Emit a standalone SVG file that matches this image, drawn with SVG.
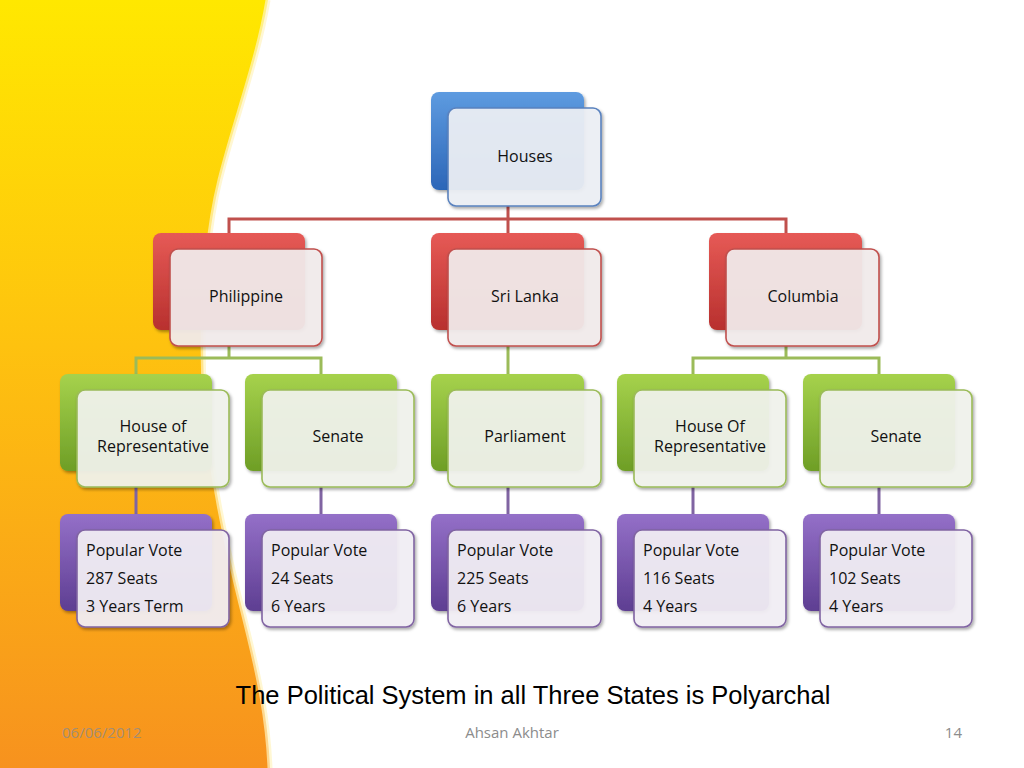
<svg xmlns="http://www.w3.org/2000/svg" width="1024" height="768" viewBox="0 0 1024 768">
<defs>
<linearGradient id="bg" x1="0" y1="0" x2="0" y2="1">
<stop offset="0" stop-color="#FFE800"/>
<stop offset="0.45" stop-color="#FEC20F"/>
<stop offset="1" stop-color="#F7921E"/>
</linearGradient>
<linearGradient id="gBlue" x1="0" y1="0" x2="0" y2="1"><stop offset="0" stop-color="#5E9BE0"/><stop offset="1" stop-color="#2C66B8"/></linearGradient>
<linearGradient id="gRed" x1="0" y1="0" x2="0" y2="1"><stop offset="0" stop-color="#E65A56"/><stop offset="1" stop-color="#B8302E"/></linearGradient>
<linearGradient id="gGreen" x1="0" y1="0" x2="0" y2="1"><stop offset="0" stop-color="#A6D24C"/><stop offset="1" stop-color="#6E9E26"/></linearGradient>
<linearGradient id="gPurple" x1="0" y1="0" x2="0" y2="1"><stop offset="0" stop-color="#9470C8"/><stop offset="1" stop-color="#5E3E92"/></linearGradient>
<filter id="sh" x="-10%" y="-10%" width="130%" height="130%"><feDropShadow dx="1.5" dy="2" stdDeviation="1.5" flood-color="#000" flood-opacity="0.35"/></filter>
<style>
.back{filter:url(#sh)}
.front{stroke-width:1.6;fill-opacity:0.92;filter:url(#sh)}
.fb{fill:#EEF1F6;stroke:#5A82BE}
.fr{fill:#F3EDED;stroke:#C0504D}
.fg{fill:#F2F4EE;stroke:#9BBB59}
.fp{fill:#F3F0F6;stroke:#8064A2}
.t{font-family:"Open Sans","Liberation Sans",sans-serif;font-size:16px;fill:#111}
.c{text-anchor:middle}
.lr{stroke:#C0504D;stroke-width:3;fill:none}
.lg{stroke:#9BBB59;stroke-width:3;fill:none}
.lp{stroke:#8064A2;stroke-width:3;fill:none}
.foot{font-family:"Open Sans","Liberation Sans",sans-serif;font-size:15px;fill:#8C8C8C}
</style>
</defs>
<rect width="1024" height="768" fill="#FFFFFF"/>
<path d="M0,0 H268 C258,60 235,120 220,180 C205,240 200,330 205,400 C210,470 225,540 245,620 C260,680 268,720 270,768 H0 Z" fill="url(#bg)"/>
<path d="M268,0 C258,60 235,120 220,180 C205,240 200,330 205,400 C210,470 225,540 245,620 C260,680 268,720 270,768" fill="none" stroke="#FFF3C0" stroke-width="5" stroke-opacity="0.7"/>

<g id="connectors">
<path class="lr" d="M508,206 V219 M229,233 V219 H786 V233 M508,219 V233"/>
<path class="lg" d="M229,346 V358 M136,374 V358 H321 V374"/>
<path class="lg" d="M508,346 V374"/>
<path class="lg" d="M786,346 V358 M693,374 V358 H879 V374"/>
<path class="lp" d="M136,487 V514 M321,487 V514 M508,487 V514 M693,487 V514 M879,487 V514"/>
</g>

<g id="houses">
<rect class="back" x="431" y="92" width="153" height="98" rx="8" fill="url(#gBlue)"/>
<rect class="front fb" x="448" y="108" width="153" height="98" rx="8"/>
<text class="t c" x="525" y="162">Houses</text>
</g>

<g id="philippine">
<rect class="back" x="153" y="233" width="152" height="97" rx="8" fill="url(#gRed)"/>
<rect class="front fr" x="170" y="249" width="152" height="97" rx="8"/>
<text class="t c" x="246" y="302">Philippine</text>
</g>
<g id="srilanka">
<rect class="back" x="431" y="233" width="153" height="97" rx="8" fill="url(#gRed)"/>
<rect class="front fr" x="448" y="249" width="153" height="97" rx="8"/>
<text class="t c" x="525" y="302">Sri Lanka</text>
</g>
<g id="columbia">
<rect class="back" x="709" y="233" width="153" height="97" rx="8" fill="url(#gRed)"/>
<rect class="front fr" x="726" y="249" width="153" height="97" rx="8"/>
<text class="t c" x="803" y="302">Columbia</text>
</g>

<g id="ph-house">
<rect class="back" x="60" y="374" width="152" height="97" rx="8" fill="url(#gGreen)"/>
<rect class="front fg" x="77" y="390" width="152" height="97" rx="8"/>
<text class="t c" x="153" y="432">House of</text>
<text class="t c" x="153" y="452">Representative</text>
</g>
<g id="ph-senate">
<rect class="back" x="245" y="374" width="152" height="97" rx="8" fill="url(#gGreen)"/>
<rect class="front fg" x="262" y="390" width="152" height="97" rx="8"/>
<text class="t c" x="338" y="442">Senate</text>
</g>
<g id="sl-parliament">
<rect class="back" x="431" y="374" width="153" height="97" rx="8" fill="url(#gGreen)"/>
<rect class="front fg" x="448" y="390" width="153" height="97" rx="8"/>
<text class="t c" x="525" y="442">Parliament</text>
</g>
<g id="co-house">
<rect class="back" x="617" y="374" width="152" height="97" rx="8" fill="url(#gGreen)"/>
<rect class="front fg" x="634" y="390" width="152" height="97" rx="8"/>
<text class="t c" x="710" y="432">House Of</text>
<text class="t c" x="710" y="452">Representative</text>
</g>
<g id="co-senate">
<rect class="back" x="803" y="374" width="152" height="97" rx="8" fill="url(#gGreen)"/>
<rect class="front fg" x="820" y="390" width="152" height="97" rx="8"/>
<text class="t c" x="896" y="442">Senate</text>
</g>

<g id="ph-house-info">
<rect class="back" x="60" y="514" width="152" height="97" rx="8" fill="url(#gPurple)"/>
<rect class="front fp" x="77" y="530" width="152" height="97" rx="8"/>
<text class="t" x="86" y="556">Popular Vote</text>
<text class="t" x="86" y="584">287 Seats</text>
<text class="t" x="86" y="612">3 Years Term</text>
</g>
<g id="ph-senate-info">
<rect class="back" x="245" y="514" width="152" height="97" rx="8" fill="url(#gPurple)"/>
<rect class="front fp" x="262" y="530" width="152" height="97" rx="8"/>
<text class="t" x="271" y="556">Popular Vote</text>
<text class="t" x="271" y="584">24 Seats</text>
<text class="t" x="271" y="612">6 Years</text>
</g>
<g id="sl-parliament-info">
<rect class="back" x="431" y="514" width="153" height="97" rx="8" fill="url(#gPurple)"/>
<rect class="front fp" x="448" y="530" width="153" height="97" rx="8"/>
<text class="t" x="457" y="556">Popular Vote</text>
<text class="t" x="457" y="584">225 Seats</text>
<text class="t" x="457" y="612">6 Years</text>
</g>
<g id="co-house-info">
<rect class="back" x="617" y="514" width="152" height="97" rx="8" fill="url(#gPurple)"/>
<rect class="front fp" x="634" y="530" width="152" height="97" rx="8"/>
<text class="t" x="643" y="556">Popular Vote</text>
<text class="t" x="643" y="584">116 Seats</text>
<text class="t" x="643" y="612">4 Years</text>
</g>
<g id="co-senate-info">
<rect class="back" x="803" y="514" width="152" height="97" rx="8" fill="url(#gPurple)"/>
<rect class="front fp" x="820" y="530" width="152" height="97" rx="8"/>
<text class="t" x="829" y="556">Popular Vote</text>
<text class="t" x="829" y="584">102 Seats</text>
<text class="t" x="829" y="612">4 Years</text>
</g>

<text x="533" y="704" text-anchor="middle" font-family="Liberation Sans, Arial, sans-serif" font-size="25.5" fill="#000">The Political System in all Three States is Polyarchal</text>
<text class="foot" x="62" y="738" fill-opacity="0.8">06/06/2012</text>
<text class="foot" x="512" y="738" text-anchor="middle">Ahsan Akhtar</text>
<text class="foot" x="962" y="738" text-anchor="end">14</text>
</svg>
